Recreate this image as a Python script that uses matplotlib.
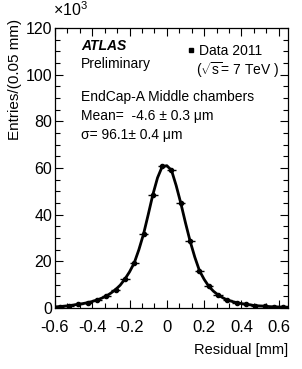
import matplotlib
matplotlib.use("Agg")
import matplotlib.pyplot as plt
from matplotlib.ticker import MultipleLocator, AutoMinorLocator

plt.rcParams['font.family'] = ['Liberation Sans', 'DejaVu Sans']
plt.rcParams['mathtext.fontset'] = 'custom'
plt.rcParams['mathtext.rm'] = 'Liberation Sans'
plt.rcParams['mathtext.it'] = 'Liberation Sans:italic'
plt.rcParams['mathtext.bf'] = 'Liberation Sans:bold'

# Bin centres (mm) and entries (x10^3) per 0.05 mm
bin_centers = [-0.575, -0.525, -0.475, -0.425, -0.375, -0.325, -0.275, -0.225,
               -0.175, -0.125, -0.075, -0.025, 0.025, 0.075, 0.125, 0.175,
               0.225, 0.275, 0.325, 0.375, 0.425, 0.475, 0.525, 0.575, 0.625]
entries = [0.6, 1.0, 1.6, 2.3, 3.4, 5.1, 7.9, 12.4,
           19.3, 31.7, 48.6, 60.8, 59.0, 44.9, 28.6, 16.0,
           9.3, 5.6, 3.4, 2.3, 1.6, 1.0, 0.8, 0.5, 0.4]
half_bin = 0.025

# Fit curve
fit_x = [-0.6, -0.575, -0.55, -0.525, -0.5, -0.475, -0.45, -0.425, -0.4, -0.375,
         -0.35, -0.325, -0.3, -0.275, -0.25, -0.225, -0.2, -0.175, -0.15, -0.125,
         -0.1, -0.075, -0.05, -0.025, 0.0, 0.025, 0.05, 0.075, 0.1, 0.125,
         0.15, 0.175, 0.2, 0.225, 0.25, 0.275, 0.3, 0.325, 0.35, 0.375,
         0.4, 0.425, 0.45, 0.475, 0.5, 0.525, 0.55, 0.575, 0.6, 0.625, 0.65]
fit_y = [0.5, 0.6, 0.8, 1.0, 1.3, 1.6, 1.9, 2.3, 2.8, 3.4,
         4.2, 5.1, 6.4, 7.9, 9.8, 12.4, 15.5, 19.3, 25.0, 31.7,
         40.0, 48.6, 55.8, 60.6, 61.0, 59.0, 52.5, 44.9, 36.5, 28.6,
         21.8, 16.0, 12.3, 9.3, 7.2, 5.6, 4.4, 3.4, 2.8, 2.3,
         1.9, 1.6, 1.3, 1.0, 0.9, 0.8, 0.6, 0.5, 0.45, 0.4, 0.35]

fig = plt.figure(figsize=(3.02, 3.69), dpi=100)
ax = fig.add_axes([55/302, 61/369, 233/302, 280/369])

ax.plot(fit_x, fit_y, color='black', lw=2.0, zorder=2)
ax.errorbar(bin_centers, entries, xerr=half_bin, fmt='o', color='black',
            ms=3.0, elinewidth=1.0, capsize=0, zorder=3)

ax.set_xlim(-0.6, 0.65)
ax.set_ylim(0, 120)
ax.xaxis.set_major_locator(MultipleLocator(0.2))
ax.xaxis.set_minor_locator(AutoMinorLocator(3))
ax.yaxis.set_major_locator(MultipleLocator(20))
ax.yaxis.set_minor_locator(AutoMinorLocator(4))
ax.tick_params(which='both', direction='in', top=True, right=True, width=0.8)
ax.tick_params(which='major', length=6)
ax.tick_params(which='minor', length=3.5)
ax.tick_params(axis='x', labelsize=12, pad=9)
ax.tick_params(axis='y', labelsize=11.5, pad=2)
ax.set_xticks([-0.6, -0.4, -0.2, 0, 0.2, 0.4, 0.6])
ax.set_xticklabels(['-0.6', '-0.4', '-0.2', '0', '0.2', '0.4', '0.6'])
for s in ax.spines.values():
    s.set_linewidth(0.9)

fig.text(53/302, (369-15.5)/369, r'$\times10^{3}$', fontsize=11.5, ha='left', va='baseline')
fig.text(15/302, (369-19)/369, 'Entries/(0.05 mm)', rotation=90, fontsize=11,
         ha='center', va='top')
fig.text(288/302, (369-350)/369, 'Residual [mm]', fontsize=10.5, ha='right', va='center')

ax.text(0.1116, 0.936, 'ATLAS', transform=ax.transAxes, fontsize=10,
        fontweight='bold', fontstyle='italic', ha='left', va='center')
ax.text(0.1116, 0.871, 'Preliminary', transform=ax.transAxes, fontsize=10,
        ha='left', va='center')
ax.text(0.1116, 0.754, 'EndCap-A Middle chambers', transform=ax.transAxes, fontsize=10,
        ha='left', va='center')
ax.text(0.1116, 0.686, 'Mean=  -4.6 ± 0.3 μm', transform=ax.transAxes, fontsize=10,
        ha='left', va='center')
ax.text(0.1116, 0.618, 'σ= 96.1± 0.4 μm', transform=ax.transAxes, fontsize=10,
        ha='left', va='center')

ax.plot([0.584], [0.921], 's', color='black', ms=3.2, transform=ax.transAxes,
        clip_on=False)
ax.text(0.618, 0.918, 'Data 2011', transform=ax.transAxes, fontsize=10,
        ha='left', va='center')
ax.text(0.605, 0.85, r'($\sqrt{\mathrm{s}}$= 7 TeV )', transform=ax.transAxes, fontsize=10,
        ha='left', va='center')

fig.savefig('out.png', dpi=100)
